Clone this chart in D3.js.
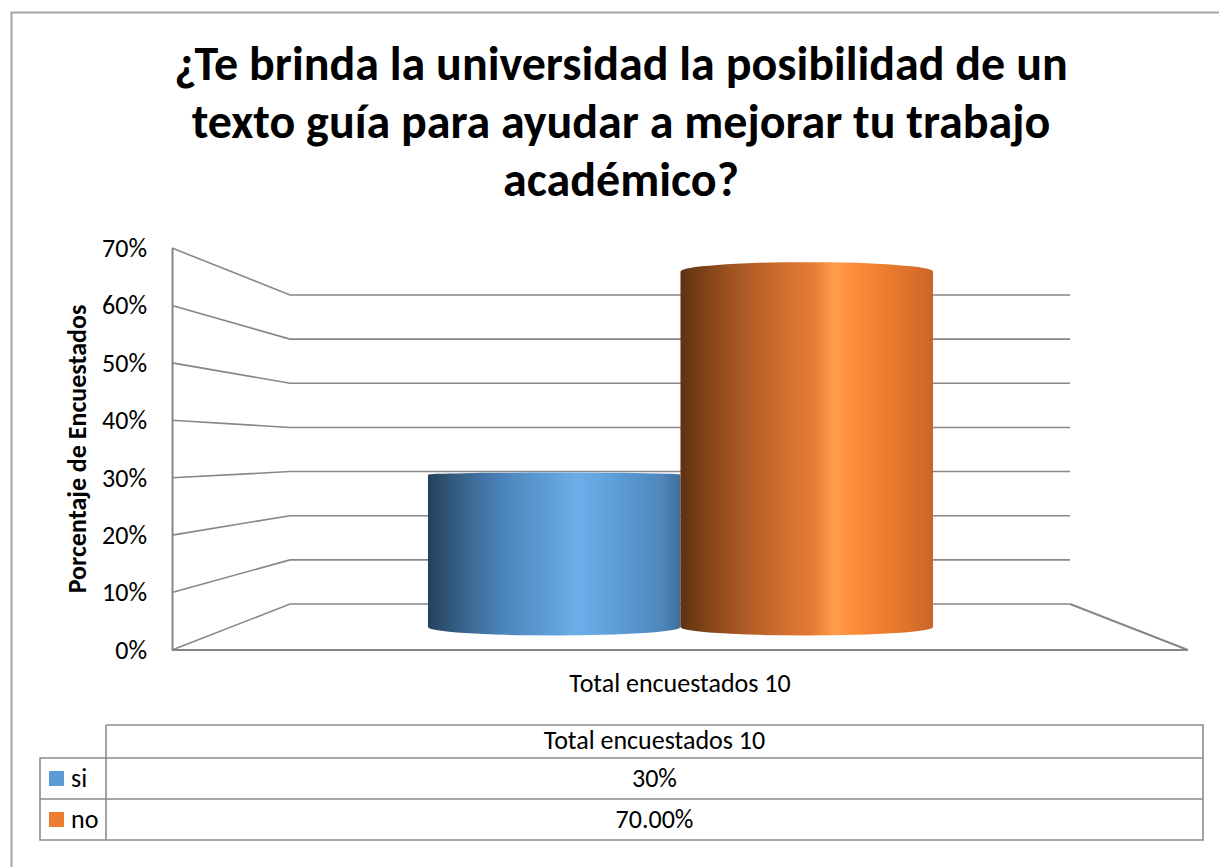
<!DOCTYPE html>
<html>
<head>
<meta charset="utf-8">
<script src="https://cdn.jsdelivr.net/npm/d3@7"></script>
<style>
  body { margin: 0; background: #fff; }
  svg { display: block; }
  text { font-family: Calibri, Carlito, Lato, sans-serif; fill: #000; }
</style>
</head>
<body>
<div class="chart"></div>
<script>
// chart data
var titleLines = ["¿Te brinda la universidad la posibilidad de un", "texto guía para ayudar a mejorar tu trabajo", "académico?"];
var categories = ["Total encuestados 10"];
var seriesNames = ["si", "no"];
var seriesValues = [0.30, 0.70];
var tableLabels = ["30%", "70.00%"];
var seriesColors = ["#5b9bd5", "#ed7d31"];
var yAxisTitle = "Porcentaje de Encuestados";

var svgWidth = 1219;
var svgHeight = 867;
var labelSize = "26px";

var svg = d3.select(".chart")
  .append("svg")
  .attr("width", svgWidth)
  .attr("height", svgHeight);

// outer chart border
svg.append("rect")
  .attr("x", 11.5).attr("y", 12.5)
  .attr("width", 1240).attr("height", 900)
  .attr("fill", "none")
  .attr("stroke", "#a6a6a6")
  .attr("stroke-width", 2);

// title
svg.append("g").selectAll("text")
  .data(titleLines)
  .enter()
  .append("text")
  .attr("x", 621)
  .attr("y", (d, i) => 80 + i * 58)
  .attr("text-anchor", "middle")
  .style("font-size", "48px")
  .style("font-weight", "bold")
  .text(d => d);

// 3d box: front plane, back plane and the middle plane where the cylinders stand
var frontLeft = 172, frontRight = 1188;
var backLeft = 290, backRight = 1070;

var yFront = d3.scaleLinear().domain([0, 0.7]).range([650, 248]);
var yBack = d3.scaleLinear().domain([0, 0.7]).range([604, 295]);
var yMid = d3.scaleLinear().domain([0, 0.7]).range([627, 271.5]);

var xCat = d3.scaleBand().domain(categories).range([231, 1130]).paddingInner(0).paddingOuter(0.39);
var xSeries = d3.scaleBand().domain(seriesNames).range([0, xCat.bandwidth()]);

var ticks = yFront.ticks(7);
var gridColor = "#878787";

// walls / gridlines
var grid = svg.append("g");
grid.selectAll("polyline")
  .data(ticks)
  .enter()
  .append("polyline")
  .attr("points", d => [[frontLeft, yFront(d)], [backLeft, yBack(d)], [backRight, yBack(d)]].join(" "))
  .attr("fill", "none")
  .attr("stroke", gridColor)
  .attr("stroke-width", 1.6);

// floor front edge and right side
grid.append("polyline")
  .attr("points", [[frontLeft, yFront(0)], [frontRight, yFront(0)], [backRight, yBack(0)]].join(" "))
  .attr("fill", "none")
  .attr("stroke", gridColor)
  .attr("stroke-width", 2);

// left axis
var leftAxis = d3.axisLeft(yFront)
  .tickValues(ticks)
  .tickFormat(d3.format(".0%"))
  .tickSize(0)
  .tickPadding(25);

var axisG = svg.append("g")
  .attr("transform", `translate(${frontLeft}, 0)`)
  .call(leftAxis);
axisG.select(".domain").attr("stroke", gridColor).attr("stroke-width", 2);
axisG.selectAll("text")
  .style("font-size", labelSize)
  .style("font-family", "Calibri, Carlito, Lato, sans-serif")
  .attr("fill", "#000");

svg.append("text")
  .attr("transform", "rotate(-90)")
  .attr("x", -449)
  .attr("y", 77)
  .attr("dy", "0.35em")
  .attr("text-anchor", "middle")
  .style("font-size", labelSize)
  .style("font-weight", "bold")
  .text(yAxisTitle);

// cylinders
var defs = svg.append("defs");
var gradStops = [
  [[0, "#25405b"], [0.12, "#375f86"], [0.3, "#4b85bc"], [0.6, "#6daeea"], [0.75, "#5c9cd7"], [0.93, "#4f86bb"], [1, "#3f6d9a"]],
  [[0, "#5e3211"], [0.14, "#8d4a1c"], [0.33, "#c2652a"], [0.52, "#e57c33"], [0.61, "#fd9c4b"], [0.7, "#fc8a37"], [0.88, "#e3742c"], [1, "#c9652a"]]
];
seriesNames.forEach(function(s, i) {
  var g = defs.append("linearGradient")
    .attr("id", "grad-" + s)
    .attr("x1", "0%").attr("x2", "100%")
    .attr("y1", "0%").attr("y2", "0%");
  g.selectAll("stop")
    .data(gradStops[i])
    .enter()
    .append("stop")
    .attr("offset", d => d[0])
    .attr("stop-color", d => d[1]);
});

// ellipse depth depends on distance from eye level
var eyeLevel = 0.33;
function ry(v) { return 1.5 + 7 * Math.abs(v - eyeLevel) / eyeLevel; }

var cylData = seriesNames.map((s, i) => ({ name: s, value: seriesValues[i], cat: categories[0] }));

svg.append("g").selectAll("path")
  .data(cylData)
  .enter()
  .append("path")
  .attr("d", function(d) {
    var x0 = xCat(d.cat) + xSeries(d.name);
    var x1 = x0 + xSeries.bandwidth();
    var rx = (x1 - x0) / 2;
    var yt = yMid(d.value), yb = yMid(0);
    return `M${x0},${yt} A${rx},${ry(d.value)} 0 0 1 ${x1},${yt} L${x1},${yb} A${rx},${ry(0)} 0 0 1 ${x0},${yb} Z`;
  })
  .attr("fill", d => `url(#grad-${d.name})`);

// category label
svg.append("text")
  .attr("x", 680)
  .attr("y", 692)
  .attr("text-anchor", "middle")
  .style("font-size", labelSize)
  .text(categories[0]);

// data table
var tableLeft = 40, colDiv = 106, tableRight = 1203;
var rowTops = [725, 758, 799, 840];
var lineColor = "#8c8c8c";
var table = svg.append("g");

table.append("path")
  .attr("d", `M${colDiv},${rowTops[0]} H${tableRight} V${rowTops[3]} H${tableLeft} V${rowTops[1]} H${tableRight}`
    + ` M${tableLeft},${rowTops[2]} H${tableRight} M${colDiv},${rowTops[0]} V${rowTops[3]}`)
  .attr("fill", "none")
  .attr("stroke", lineColor)
  .attr("stroke-width", 1.6);

var tableMid = (colDiv + tableRight) / 2;
table.append("text")
  .attr("x", tableMid)
  .attr("y", 749)
  .attr("text-anchor", "middle")
  .style("font-size", labelSize)
  .text(categories[0]);

var rows = table.selectAll(".row")
  .data(seriesNames)
  .enter()
  .append("g")
  .attr("class", "row")
  .attr("transform", (d, i) => `translate(0, ${rowTops[i + 1]})`);

rows.append("rect")
  .attr("x", 49).attr("y", 13)
  .attr("width", 15).attr("height", 15)
  .attr("fill", (d, i) => seriesColors[i]);

rows.append("text")
  .attr("x", 71).attr("y", 29)
  .style("font-size", labelSize)
  .text(d => d);

rows.append("text")
  .attr("x", tableMid).attr("y", 29)
  .attr("text-anchor", "middle")
  .style("font-size", labelSize)
  .text((d, i) => tableLabels[i]);
</script>
</body>
</html>
